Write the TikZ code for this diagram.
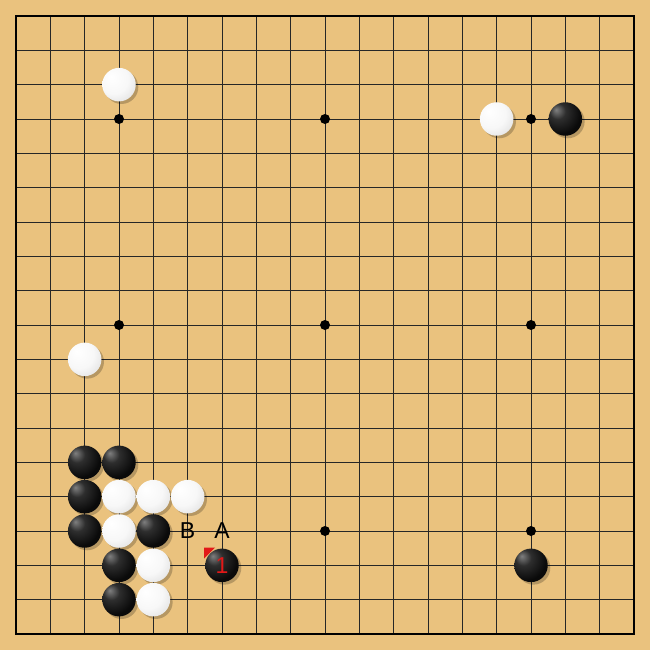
\documentclass[tikz,border=0pt]{standalone}
\usepackage{fontspec}
\setmainfont{Liberation Sans}
\definecolor{board}{RGB}{234,194,126}
\definecolor{markred}{RGB}{226,24,24}
\pgfdeclareradialshading{blackstone}{\pgfpoint{-14bp}{14bp}}{color(0bp)=(black!50); color(12bp)=(black!82); color(30bp)=(black!96); color(70bp)=(black)}
\pgfdeclareradialshading{whitestone}{\pgfpoint{-12bp}{12bp}}{color(0bp)=(white); color(22bp)=(white!97!black); color(45bp)=(white!84!black); color(68bp)=(white!62!black)}
\tikzset{
  gridline/.style={line width=0.9pt, black!85},
  stoneshadow/.style={fill=black, opacity=0.22},
  bstone/.style={circle, minimum size=33.5pt, inner sep=0pt, shading=blackstone},
  wstone/.style={circle, minimum size=33.5pt, inner sep=0pt, shading=whitestone},
  hoshi/.style={circle, fill=black, minimum size=10pt, inner sep=0pt},
  golabel/.style={font=\fontsize{23}{23}\selectfont, text=black, inner sep=0pt},
  movenum/.style={font=\fontsize{23}{23}\selectfont, text=markred, inner sep=0pt},
}
\newcommand{\gx}[1]{16+#1*34.3333}
\newcommand{\putstone}[4]{%
  \fill[stoneshadow] ({\gx{#2}+2.5},{\gx{#3}+2.5}) circle (16.8);
  \node[#4stone] (#1) at ({\gx{#2}},{\gx{#3}}) {};
}
\begin{document}
\begin{tikzpicture}[x=1pt,y=-1pt]
\fill[board] (0,0) rectangle (650,650);
\useasboundingbox (0,0) rectangle (650,650);
\foreach \i in {1,...,17} {
  \draw[gridline] ({\gx{\i}},16) -- ({\gx{\i}},634);
  \draw[gridline] (16,{\gx{\i}}) -- (634,{\gx{\i}});
}
\draw[line width=1.8pt, black] (16,16) rectangle (634,634);
\foreach \c/\r [count=\k] in {3/3,9/3,15/3,3/9,9/9,15/9,3/15,9/15,15/15} {
  \node[hoshi] (h\k) at ({\gx{\c}},{\gx{\r}}) {};
}
\putstone{w1}{3}{2}{w}
\putstone{w2}{14}{3}{w}
\putstone{b1}{16}{3}{b}
\putstone{w3}{2}{10}{w}
\putstone{b2}{2}{13}{b}
\putstone{b3}{3}{13}{b}
\putstone{b4}{2}{14}{b}
\putstone{w4}{3}{14}{w}
\putstone{w5}{4}{14}{w}
\putstone{w6}{5}{14}{w}
\putstone{b5}{2}{15}{b}
\putstone{w7}{3}{15}{w}
\putstone{b6}{4}{15}{b}
\putstone{b7}{3}{16}{b}
\putstone{w8}{4}{16}{w}
\putstone{b8}{6}{16}{b}
\putstone{b9}{15}{16}{b}
\putstone{b10}{3}{17}{b}
\putstone{w9}{4}{17}{w}
\node[golabel] (lB) at ({\gx{5}},{\gx{15}}) {B};
\node[golabel] (lA) at ({\gx{6}},{\gx{15}}) {A};
\node[movenum] (m1) at ([yshift=-0.5pt]b8.center) {1};
\fill[markred] (204,547.5) -- (215,547.5) -- (204,558.5) -- cycle;
\end{tikzpicture}
\end{document}
